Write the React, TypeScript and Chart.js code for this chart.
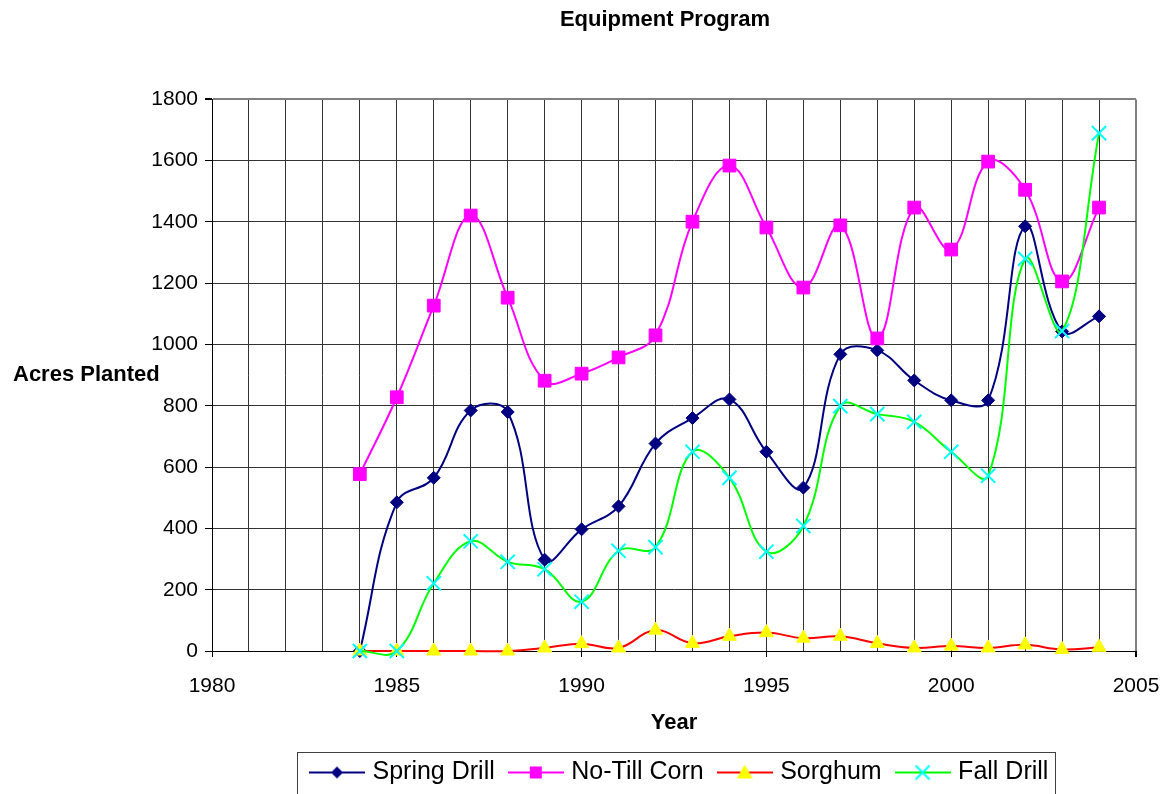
import React, { useEffect, useRef } from 'react';
import { Chart, registerables } from 'chart.js';

Chart.register(...registerables);

const FONT = "'Liberation Sans', Arial, Helvetica, sans-serif";

const years = [1984, 1985, 1986, 1987, 1988, 1989, 1990, 1991, 1992, 1993, 1994, 1995, 1996, 1997, 1998, 1999, 2000, 2001, 2002, 2003, 2004];
const springDrill = [0, 485, 565, 785, 780, 298, 397, 472, 677, 760, 821, 650, 533, 968, 981, 883, 818, 818, 1386, 1043, 1092];
const noTillCorn = [577, 828, 1127, 1421, 1153, 882, 905, 958, 1030, 1401, 1584, 1382, 1186, 1389, 1020, 1447, 1310, 1597, 1505, 1206, 1447];
const sorghum = [0, 0, 0, 0, 0, 10, 24, 10, 68, 25, 48, 60, 42, 48, 25, 10, 16, 10, 20, 5, 12];
const fallDrill = [0, 0, 221, 358, 291, 267, 161, 327, 339, 650, 565, 324, 408, 799, 773, 748, 650, 572, 1280, 1044, 1690];

const seriesNames = ['Spring Drill', 'No-Till Corn', 'Sorghum', 'Fall Drill'];
const yTicksMin = 0;
const yTicksMax = 1800;
const yTickStep = 200;
const xMin = 1980;
const xMax = 2005;

function makeIcon(lineColor: string, markColor: string, style: string): HTMLCanvasElement {
  const c = document.createElement('canvas');
  c.width = 56;
  c.height = 24;
  const g = c.getContext('2d')!;
  g.strokeStyle = lineColor;
  g.lineWidth = 2;
  g.beginPath();
  g.moveTo(0, 12);
  g.lineTo(56, 12);
  g.stroke();
  const cx = 28, cy = 12;
  g.fillStyle = markColor;
  g.strokeStyle = markColor;
  g.beginPath();
  if (style === 'diamond') {
    g.moveTo(cx, cy - 6); g.lineTo(cx + 6, cy); g.lineTo(cx, cy + 6); g.lineTo(cx - 6, cy); g.closePath(); g.fill();
  } else if (style === 'square') {
    g.rect(cx - 6, cy - 6, 12, 12); g.fill();
  } else if (style === 'triangle') {
    g.moveTo(cx, cy - 8); g.lineTo(cx + 8, cy + 6); g.lineTo(cx - 8, cy + 6); g.closePath(); g.fill();
  } else {
    g.lineWidth = 2;
    g.moveTo(cx - 7, cy - 7); g.lineTo(cx + 7, cy + 7);
    g.moveTo(cx + 7, cy - 7); g.lineTo(cx - 7, cy + 7);
    g.stroke();
  }
  return c;
}

export default function App() {
  const ref = useRef<HTMLCanvasElement>(null);

  useEffect(() => {
    const canvas = ref.current!;
    const pts = (arr: number[]) => years.map((x, i) => ({ x, y: arr[i] }));

    const icons = [
      makeIcon('#000080', '#000080', 'diamond'),
      makeIcon('#FF00FF', '#FF00FF', 'square'),
      makeIcon('#FF0000', '#FFFF00', 'triangle'),
      makeIcon('#00FF00', '#00FFFF', 'cross'),
    ];

    const custom = {
      id: 'custom',
      afterLayout(chart: any) {
        const lg = chart.legend;
        if (lg) {
          const w = lg.right - lg.left;
          lg.left = 296;
          lg.right = 296 + w;
        }
        const tb = chart.titleBlock;
        if (tb) {
          tb.left -= 9;
          tb.right -= 9;
        }
      },
      afterDraw(chart: any) {
        const ctx = chart.ctx;
        const ca = chart.chartArea;
        ctx.save();
        ctx.font = `bold 22px ${FONT}`;
        ctx.fillStyle = '#000';
        ctx.textAlign = 'left';
        ctx.textBaseline = 'middle';
        ctx.fillText('Acres Planted', 13, (ca.top + ca.bottom) / 2);
        const lg = chart.legend;
        if (lg && lg.legendHitBoxes && lg.legendHitBoxes.length) {
          const hb = lg.legendHitBoxes;
          const first = hb[0];
          const last = hb[hb.length - 1];
          const left = first.left - 17;
          const right = last.left + last.width + 7;
          const cy = first.top + 12;
          const top = cy - 20;
          ctx.strokeStyle = '#404040';
          ctx.lineWidth = 1;
          ctx.strokeRect(Math.round(left) + 0.5, Math.round(top) + 0.5, Math.round(right - left), 60);
        }
        ctx.restore();
      },
    };

    const common = { borderWidth: 2, tension: 0.4, clip: false, capBezierPoints: false };

    const chart = new Chart(canvas, {
      type: 'line',
      data: {
        datasets: [
          {
            ...common,
            label: seriesNames[0], data: pts(springDrill), borderColor: '#000080', backgroundColor: '#000080',
            pointStyle: 'rectRot', pointRadius: 6.5, pointBackgroundColor: '#000080',
            pointBorderColor: '#000080', pointBorderWidth: 1, order: 4,
          },
          {
            ...common,
            label: seriesNames[1], data: pts(noTillCorn), borderColor: '#FF00FF', backgroundColor: '#FF00FF',
            pointStyle: 'rect', pointRadius: 9, pointBackgroundColor: '#FF00FF',
            pointBorderColor: '#FF00FF', pointBorderWidth: 1, order: 3,
          },
          {
            ...common,
            label: seriesNames[2], data: pts(sorghum), borderColor: '#FF0000', backgroundColor: '#FFFF00',
            pointStyle: 'triangle', pointRadius: 8, pointBackgroundColor: '#FFFF00',
            pointBorderColor: '#FFFF00', pointBorderWidth: 1, order: 2,
          },
          {
            ...common,
            label: seriesNames[3], data: pts(fallDrill), borderColor: '#00FF00', backgroundColor: '#00FFFF',
            pointStyle: 'crossRot', pointRadius: 10, pointBackgroundColor: '#00FFFF',
            pointBorderColor: '#00FFFF', pointBorderWidth: 2, order: 1,
          },
        ],
      },
      options: {
        responsive: false,
        animation: false,
        events: [],
        layout: { padding: { left: 0, right: 0, top: 0, bottom: 5 } },
        plugins: {
          title: {
            display: true,
            text: 'Equipment Program',
            fullSize: false,
            color: '#000',
            font: { family: FONT, size: 22, weight: 'bold' },
            padding: { top: 7, bottom: 66 },
          },
          legend: {
            position: 'bottom',
            align: 'start',
            labels: {
              usePointStyle: true,
              pointStyleWidth: 46,
              boxHeight: 25,
              padding: 18,
              color: '#000',
              font: { family: FONT, size: 25 },
              generateLabels: () =>
                seriesNames.map((name, i) => ({
                  text: name,
                  pointStyle: icons[i],
                  fillStyle: 'transparent',
                  strokeStyle: 'transparent',
                  lineWidth: 0,
                  hidden: false,
                  datasetIndex: i,
                  fontColor: '#000',
                })) as any,
            },
          },
          tooltip: { enabled: false },
        },
        scales: {
          x: {
            type: 'linear',
            min: xMin,
            max: xMax,
            afterFit: (s: any) => { s.height = 91; s.paddingRight = 29; s.paddingLeft = 0; },
            ticks: {
              stepSize: 1,
              autoSkip: false,
              maxRotation: 0,
              minRotation: 0,
              color: '#000',
              padding: 17,
              font: { family: FONT, size: 21 },
              callback: (v: any) => (Number(v) % 5 === 0 ? String(v) : ''),
            },
            grid: {
              color: (c: any) => (c.tick && c.tick.value === xMax ? '#808080' : '#333'),
              lineWidth: (c: any) => (c.tick && c.tick.value === xMax ? 2 : 1),
              tickColor: (c: any) => (c.tick && c.tick.value % 5 === 0 ? '#000' : 'rgba(0,0,0,0)'),
              tickLength: 6,
              drawTicks: true,
            },
            border: { display: true, color: '#000', width: 1 },
            title: {
              display: true,
              text: 'Year',
              color: '#000',
              font: { family: FONT, size: 22, weight: 'bold' },
              padding: { top: 0, bottom: 6 },
            },
          },
          y: {
            type: 'linear',
            min: yTicksMin,
            max: yTicksMax,
            afterFit: (s: any) => { s.width = 212; },
            ticks: {
              stepSize: yTickStep,
              color: '#000',
              padding: 7,
              font: { family: FONT, size: 21 },
              callback: (v: any) => String(v),
            },
            grid: {
              color: (c: any) => (c.tick && c.tick.value === yTicksMax ? '#808080' : '#333'),
              lineWidth: (c: any) => (c.tick && c.tick.value === yTicksMax ? 2 : 1),
              tickColor: '#000',
              tickLength: 7,
            },
            border: { display: true, color: '#000', width: 1 },
          },
        },
      },
      plugins: [custom],
    } as any);

    return () => chart.destroy();
  }, []);

  return (
    <div style={{ position: 'fixed', left: 0, top: 0, width: 1165, height: 794, overflow: 'hidden', background: '#fff' }}>
      <canvas ref={ref} width={1165} height={800} style={{ display: 'block', width: 1165, height: 800 }} />
    </div>
  );
}
